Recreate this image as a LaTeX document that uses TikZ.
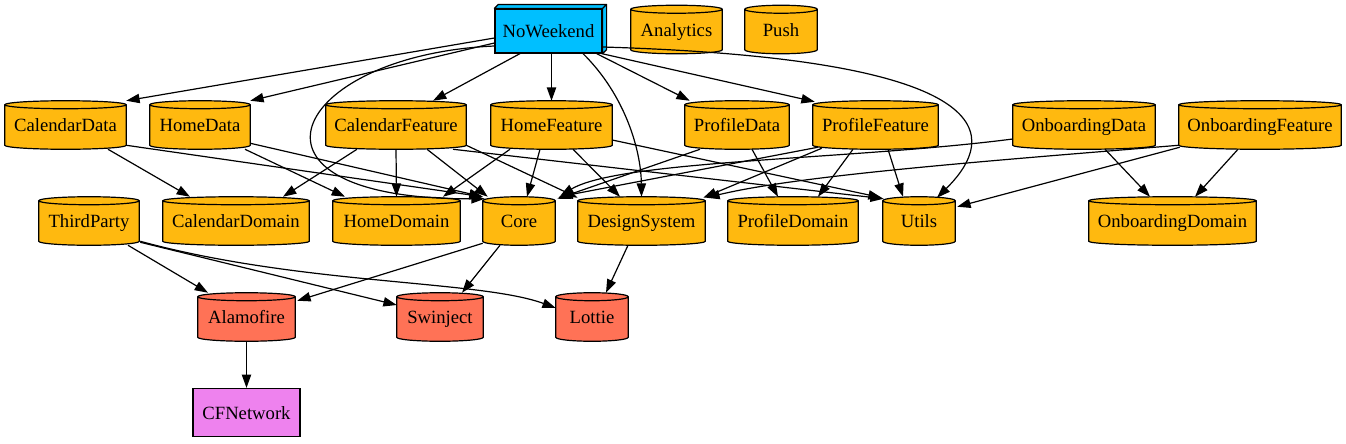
\documentclass[tikz,border=0pt]{standalone}
\usepackage{fontspec}
\setmainfont{Liberation Serif}
\usetikzlibrary{arrows.meta,calc,backgrounds}

\definecolor{appblue}{HTML}{00BFFF}
\definecolor{modorange}{HTML}{FFB90F}
\definecolor{extred}{HTML}{FF7256}
\definecolor{sysviolet}{HTML}{EE82EE}

\tikzset{
  mod/.style={rectangle, inner sep=0pt, minimum height=36pt, text height=11pt, text depth=1.2pt,
    font=\fontsize{14}{16}\selectfont},
  wd/.style={minimum width=#1*0.75pt},
  appbox/.style={mod, draw, line width=0.9pt, fill=appblue},
  sysbox/.style={mod, draw, line width=0.9pt, fill=sysviolet},
  dep/.style={-{Triangle[length=10pt,width=7pt]}, line width=0.9pt},
}

% cylinder drawn behind a named node
\newcommand{\dbcyl}[2]{%
  \draw[line width=0.9pt, fill=#2]
    let \p1=(#1.north west), \p2=(#1.south east) in
    (\x1,\y1-3pt) -- (\x1,\y2+3pt)
    arc[start angle=180, end angle=360, x radius={(\x2-\x1)/2}, y radius=3pt]
    -- (\x2,\y1-3pt)
    arc[start angle=0, end angle=180, x radius={(\x2-\x1)/2}, y radius=3pt]
    -- cycle
    (\x1,\y1-3pt)
    arc[start angle=180, end angle=360, x radius={(\x2-\x1)/2}, y radius=3pt];}

\begin{document}
\begin{tikzpicture}[x=0.75pt,y=-0.75pt]
  \useasboundingbox (0,0) rectangle (1346,443);

  \node[appbox, wd=107, minimum height=33pt] (noweekend) at (548.5,31) {NoWeekend};
  \node[mod, wd=91] (analytics) at (676.5,29.5) {Analytics};
  \node[mod, wd=72] (push) at (781,29.5) {Push};

  \node[mod, wd=121] (calendardata) at (65.5,125) {CalendarData};
  \node[mod, wd=100] (homedata) at (200,125) {HomeData};
  \node[mod, wd=140] (calendarfeature) at (396,125) {CalendarFeature};
  \node[mod, wd=121] (homefeature) at (551.5,125) {HomeFeature};
  \node[mod, wd=104] (profiledata) at (737,125) {ProfileData};
  \node[mod, wd=125] (profilefeature) at (875.5,125) {ProfileFeature};
  \node[mod, wd=142] (onboardingdata) at (1084,125) {OnboardingData};
  \node[mod, wd=162] (onboardingfeature) at (1260,125) {OnboardingFeature};

  \node[mod, wd=100] (thirdparty) at (89,221) {ThirdParty};
  \node[mod, wd=146] (calendardomain) at (236,221) {CalendarDomain};
  \node[mod, wd=127] (homedomain) at (396.5,221) {HomeDomain};
  \node[mod, wd=72] (core) at (519,221) {Core};
  \node[mod, wd=127] (designsystem) at (641.5,221) {DesignSystem};
  \node[mod, wd=130] (profiledomain) at (793,221) {ProfileDomain};
  \node[mod, wd=72] (utils) at (919,221) {Utils};
  \node[mod, wd=167] (onboardingdomain) at (1172.5,221) {OnboardingDomain};

  \node[mod, wd=97] (alamofire) at (246.5,317) {Alamofire};
  \node[mod, wd=86] (swinject) at (440,317) {Swinject};
  \node[mod, wd=72] (lottie) at (592,317) {Lottie};

  \node[sysbox, wd=107] (cfnetwork) at (246.5,412.5) {CFNetwork};

  \begin{pgfonlayer}{background}
    \draw[line width=0.9pt, fill=appblue, line join=round]
      (noweekend.north west) -- ([shift={(4,-4)}]noweekend.north west)
      -- ([shift={(4,-4)}]noweekend.north east) -- ([shift={(4,-4)}]noweekend.south east)
      -- (noweekend.south east) -- (noweekend.north east) -- cycle
      (noweekend.north east) -- ([shift={(4,-4)}]noweekend.north east);
    \foreach \m in {analytics,push,calendardata,homedata,calendarfeature,homefeature,profiledata,profilefeature,onboardingdata,onboardingfeature,thirdparty,calendardomain,homedomain,core,designsystem,profiledomain,utils,onboardingdomain}
      {\dbcyl{\m}{modorange}}
    \foreach \m in {alamofire,swinject,lottie}
      {\dbcyl{\m}{extred}}
  \end{pgfonlayer}

  % app target
  \draw[dep] ([shift={(0,7)}]noweekend.west) -- (calendardata.north east);
  \draw[dep] ([shift={(0,12)}]noweekend.west) -- (homedata.north east);
  \draw[dep] ([shift={(0,15)}]noweekend.west) .. controls (290,55) and (220,200) .. ([shift={(2,2)}]core.north west);
  \draw[dep] ([shift={(-28.5,0)}]noweekend.south) -- ([shift={(37,0)}]calendarfeature.north);
  \draw[dep] (homefeature.north |- noweekend.south) -- (homefeature.north);
  \draw[dep] ([shift={(34.5,0)}]noweekend.south) .. controls (625,95) and (641,150) .. (designsystem.north);
  \draw[dep] ([shift={(-6,0)}]noweekend.south east) -- ([shift={(5,0)}]profiledata.north west);
  \draw[dep] ([shift={(-1,0)}]noweekend.south east) -- ([shift={(2,1)}]profilefeature.north west);
  \draw[dep] ([shift={(0,16)}]noweekend.east) .. controls (1040,60) and (985,150) .. ([shift={(18,1)}]utils.north);

  % data and feature modules
  \draw[dep] ([shift={(42.5,0)}]calendardata.south) -- ([shift={(-46,0)}]calendardomain.north);
  \draw[dep] ([shift={(0,-4)}]calendardata.south east) -- (core.north west);
  \draw[dep] ([shift={(45,0)}]homedata.south) -- ([shift={(-51.5,0)}]homedomain.north);
  \draw[dep] ([shift={(0,-6)}]homedata.south east) -- (core.north west);

  \draw[dep] ([shift={(-39,0)}]calendarfeature.south) -- ([shift={(47,0)}]calendardomain.north);
  \draw[dep] (calendarfeature.south) -- (homedomain.north);
  \draw[dep] ([shift={(31,0)}]calendarfeature.south) -- ([shift={(5,0)}]core.north west);
  \draw[dep] ([shift={(0,-4)}]calendarfeature.south east) -- ([shift={(0,1)}]designsystem.north west);
  \draw[dep] ([shift={(57,0)}]calendarfeature.south) -- ([shift={(1,2)}]utils.north west);

  \draw[dep] ([shift={(-41.5,0)}]homefeature.south) -- ([shift={(46.5,0)}]homedomain.north);
  \draw[dep] ([shift={(-11.5,0)}]homefeature.south) -- ([shift={(8,0)}]core.north);
  \draw[dep] ([shift={(21.5,0)}]homefeature.south) -- ([shift={(-21.5,0)}]designsystem.north);
  \draw[dep] ([shift={(0,15)}]homefeature.east) -- ([shift={(-1,1)}]utils.north west);

  \draw[dep] ([shift={(-37,0)}]profiledata.south) -- ([shift={(2,2)}]core.north east);
  \draw[dep] ([shift={(15,0)}]profiledata.south) -- ([shift={(-15,0)}]profiledomain.north);

  \draw[dep] ([shift={(5,-2)}]profilefeature.south west) -- ([shift={(4,0)}]core.north east);
  \draw[dep] ([shift={(9,-1)}]profilefeature.south west) -- ([shift={(-2,1)}]designsystem.north east);
  \draw[dep] ([shift={(-22.5,0)}]profilefeature.south) -- ([shift={(25,0)}]profiledomain.north);
  \draw[dep] ([shift={(12.5,0)}]profilefeature.south) -- ([shift={(-16,0)}]utils.north);

  \draw[dep] ([shift={(21,0)}]onboardingdata.south) -- ([shift={(-22.5,0)}]onboardingdomain.north);
  \draw[dep] ([shift={(0,14)}]onboardingdata.west) .. controls (850,160) and (620,160) .. ([shift={(5,-1)}]core.north east);

  \draw[dep] ([shift={(-22,0)}]onboardingfeature.south) -- ([shift={(22.5,0)}]onboardingdomain.north);
  \draw[dep] ([shift={(1,-2)}]onboardingfeature.south west) -- ([shift={(2,10)}]utils.north east);
  \draw[dep] ([shift={(0,-4)}]onboardingfeature.south west) .. controls (1000,160) and (800,175) .. ([shift={(1,1)}]designsystem.north east);

  % external libraries
  \draw[dep] ([shift={(39,0)}]thirdparty.south) -- ([shift={(-38.5,0)}]alamofire.north);
  \draw[dep] ([shift={(1,-3)}]thirdparty.south east) -- ([shift={(0,-12)}]swinject.west);
  \draw[dep] ([shift={(1,-4)}]thirdparty.south east) .. controls (300,285) and (480,280) .. ([shift={(0,-9)}]lottie.west);
  \draw[dep] ([shift={(0,-2)}]core.south west) -- ([shift={(2,8)}]alamofire.north east);
  \draw[dep] ([shift={(-19,0)}]core.south) -- ([shift={(22,0)}]swinject.north);
  \draw[dep] ([shift={(-13.5,0)}]designsystem.south) -- ([shift={(14,0)}]lottie.north);
  \draw[dep] (alamofire.south) -- (cfnetwork.north);
\end{tikzpicture}
\end{document}
